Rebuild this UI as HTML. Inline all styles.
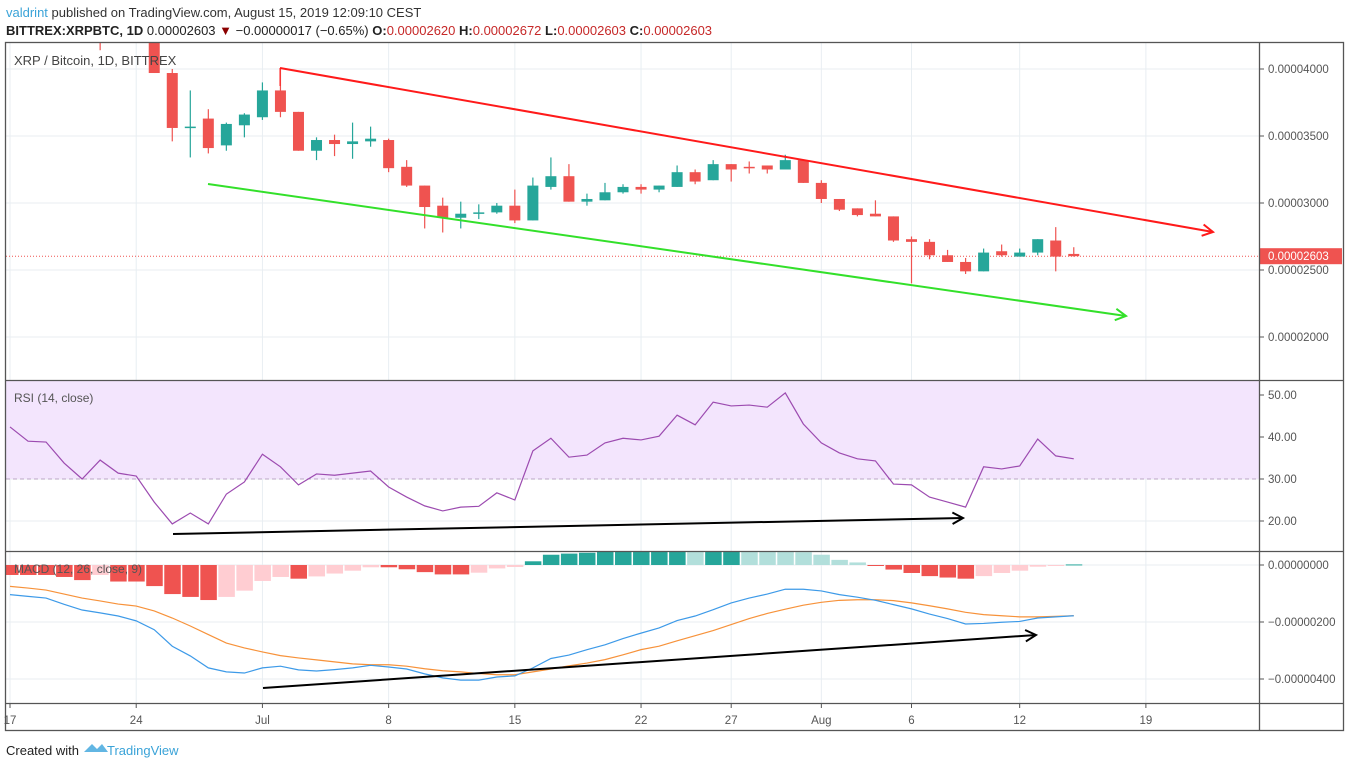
<!DOCTYPE html>
<html><head><meta charset="utf-8"><style>
body{margin:0;background:#fff;}
svg{display:block;font-family:"Liberation Sans",sans-serif;}
</style></head><body>
<svg id="c" width="1351" height="768" viewBox="0 0 1351 768">
<defs>
<clipPath id="cpMain"><rect x="6" y="43" width="1253" height="337"/></clipPath>
<clipPath id="cpRsi"><rect x="6" y="381" width="1253" height="169"/></clipPath>
<clipPath id="cpMacd"><rect x="6" y="552" width="1253" height="151"/></clipPath>
</defs>
<text x="6" y="17" font-size="13" fill="#333"><tspan fill="#3aa3d8">valdrint</tspan> published on TradingView.com, August 15, 2019 12:09:10 CEST</text>
<text x="6" y="35" font-size="13" fill="#222"><tspan font-weight="bold">BITTREX:XRPBTC, 1D</tspan> 0.00002603 <tspan fill="#8b0000">▼</tspan> −0.00000017 (−0.65%) <tspan font-weight="bold">O:</tspan><tspan fill="#c62828">0.00002620</tspan> <tspan font-weight="bold">H:</tspan><tspan fill="#c62828">0.00002672</tspan> <tspan font-weight="bold">L:</tspan><tspan fill="#c62828">0.00002603</tspan> <tspan font-weight="bold">C:</tspan><tspan fill="#c62828">0.00002603</tspan></text>
<rect x="20" y="552" width="1" height="1" fill="none"/>
<g id="grid"></g>
<rect x="6" y="381" width="1253" height="98" fill="#f3e5fd"/>
<g id="main" clip-path="url(#cpMain)"></g>
<g id="rsi" clip-path="url(#cpRsi)"></g>
<g id="macd" clip-path="url(#cpMacd)"></g>
<g id="axes"></g>
<g fill="none" stroke-width="1.3" stroke="#555">
<rect x="5.5" y="42.5" width="1338" height="688"/>
<line x1="5.5" y1="380.5" x2="1344" y2="380.5"/>
<line x1="5.5" y1="551.5" x2="1344" y2="551.5"/>
<line x1="5.5" y1="703.5" x2="1344" y2="703.5"/>
<line x1="1259.5" y1="42" x2="1259.5" y2="731"/>
</g>
<text x="14" y="65" font-size="13" fill="#444">XRP / Bitcoin, 1D, BITTREX</text>
<text x="14" y="402" font-size="12" fill="#555">RSI (14, close)</text>
<text x="14" y="573" font-size="12" fill="#555">MACD (12, 26, close, 9)</text>
<g>
<text x="6" y="755" font-size="13" fill="#222">Created with</text>
<path d="M84 752 L92 744 L97 749 L102 744 L108 752 Z" fill="#62b6e3"/>
<text x="107" y="755" font-size="13" fill="#3aa3d8">TradingView</text>
</g>
</svg>
<script>
// ---- data ----
const startDay = 5;
const opens  = [430,455,445,425,397,357,363,343,358,364,384,368,339,347,344,346,347,327,313,298,289,292,293,298,287,312,320,301,302,308,312,310,312,323,317,329,327,328,325,332,315,303,296,292,290,273,271,261,256,249,264,260,263,272,262];
const highs  = [440,470,460,432,400,384,370,360,367,390,400,368,349,351,360,357,348,332,313,304,301,299,300,310,319,334,329,307,315,314,314,313,328,325,332,329,331,328,336,332,317,303,296,302,290,275,273,265,259,266,269,266,273,282,267];
const lows   = [414,430,425,397,346,334,337,339,349,362,364,339,332,335,333,342,323,312,281,278,281,288,292,285,287,310,301,298,302,307,307,308,312,314,317,316,322,322,325,315,300,294,290,290,271,240,258,256,247,249,260,260,261,249,260];
const closes = [425,445,430,397,356,357,341,359,366,384,368,339,347,344,346,348,326,313,297,289,292,293,298,287,313,320,301,303,308,312,310,313,323,316,329,325,326,325,332,315,303,295,291,290,272,271,261,256,249,263,261,263,273,260,260.3];
const rsiValues = [42.4,39.0,38.8,33.8,30.0,34.5,31.4,30.7,24.5,19.3,21.9,19.3,26.4,29.3,35.9,32.9,28.6,31.2,30.9,31.4,31.9,28.1,25.7,23.6,22.4,23.3,23.5,26.7,25.0,36.7,39.7,35.2,35.7,38.6,39.7,39.3,40.2,45.2,42.9,48.3,47.4,47.6,47.1,50.5,43.1,38.6,36.2,34.8,34.3,28.8,28.6,25.7,24.5,23.3,32.9,32.4,33.1,39.5,35.5,34.8];
const macdHist = [-3.5,-3.5,-3.5,-4.2,-5.3,-3.5,-5.8,-5.8,-7.4,-10.2,-11.2,-12.3,-11.2,-9.0,-5.6,-4.2,-4.8,-4.0,-3.0,-2.0,-0.8,-0.8,-1.5,-2.5,-3.3,-3.3,-2.7,-1.2,-0.7,1.3,3.6,4.0,4.3,4.8,4.8,4.8,4.8,4.85,4.7,4.9,4.95,4.8,4.7,4.6,4.5,3.6,1.8,0.9,-0.1,-1.6,-2.8,-3.9,-4.4,-4.8,-3.9,-2.8,-2.0,-0.6,-0.1,0.2];
const macdLine = [-10.4,-11.0,-11.6,-13.8,-15.8,-16.8,-17.9,-19.6,-22.7,-28.5,-31.9,-36.1,-37.5,-37.9,-36.1,-35.5,-36.8,-37.2,-36.7,-36.1,-35.2,-35.8,-36.5,-38.2,-39.6,-40.4,-40.4,-39.3,-38.9,-36.1,-32.8,-31.6,-29.7,-28.0,-25.8,-23.9,-22.1,-19.5,-17.9,-15.7,-13.3,-11.6,-10.2,-8.5,-8.5,-9.1,-10.4,-11.3,-12.4,-13.9,-15.4,-17.2,-18.8,-20.7,-20.5,-20.1,-19.8,-18.6,-18.2,-17.8];
const signalLine = [-7.5,-8.1,-8.8,-10.2,-11.6,-12.6,-13.7,-14.4,-16.1,-18.6,-21.4,-24.4,-27.4,-29.1,-30.5,-31.8,-32.6,-33.3,-34.0,-34.7,-35.0,-35.0,-35.5,-36.4,-37.1,-37.5,-38.1,-38.5,-38.5,-37.5,-36.5,-35.4,-34.4,-33.2,-31.5,-29.7,-28.5,-26.6,-24.8,-23.0,-20.9,-18.8,-17.0,-15.5,-14.1,-13.1,-12.4,-12.2,-12.2,-12.5,-13.3,-14.3,-15.4,-16.6,-17.4,-17.8,-18.2,-18.2,-18.0,-17.8];
const timeLabels = ["17","24","Jul","8","15","22","27","Aug","6","12","19"];
const timeLabelDays = [0,7,14,21,28,35,40,45,50,56,63];
const priceTicks = [400,350,300,250,200];
const priceTickLabels = ["0.00004000","0.00003500","0.00003000","0.00002500","0.00002000"];
const rsiTicks = [50,40,30,20];
const macdTicks = [0,-20,-40];
const macdTickLabels = ["0.00000000","−0.00000200","−0.00000400"];
const lastPrice = 260.3;

// ---- scales ----
const xOf = d => 10 + d * 18.03;
const yP = v => 69 + (400 - v) * 1.34;
const yR = v => 395 + (50 - v) * 4.2;
const yM = v => 565 - v * 2.85;
const NS = 'http://www.w3.org/2000/svg';
function mk(tag, attrs, parent) {
  const e = document.createElementNS(NS, tag);
  for (const k in attrs) e.setAttribute(k, attrs[k]);
  parent.appendChild(e);
  return e;
}
const G = id => document.getElementById(id);
const GREEN = '#26a69a', RED = '#ef5350';

// grid
const grid = G('grid');
timeLabelDays.forEach(d => {
  const l = mk('line', {x1: xOf(d), x2: xOf(d), y1: 43, y2: 703, stroke: '#e8eef2', 'stroke-width': 1}, grid);
  
  
});
priceTicks.forEach(v => {
  const l = mk('line', {x1: 6, x2: 1259, y1: yP(v), y2: yP(v), stroke: '#e8eef2'}, grid);
  
  
});
rsiTicks.forEach(v => {
  const l = mk('line', {x1: 6, x2: 1259, y1: yR(v), y2: yR(v), stroke: '#e8eef2'}, grid);
  
  
});
macdTicks.forEach(v => {
  const l = mk('line', {x1: 6, x2: 1259, y1: yM(v), y2: yM(v), stroke: '#e8eef2'}, grid);
  
  
});

// candles
const main = G('main');
const pl = mk('line', {x1: 6, x2: 1259, y1: yP(lastPrice), y2: yP(lastPrice), stroke: RED, 'stroke-dasharray': '1 2', 'stroke-width': 1}, main);


opens.forEach((o, i) => {
  const d = startDay + i, x = xOf(d), c = closes[i];
  const col = c >= o ? GREEN : RED;
  const g = mk('g', {}, main);
  
  
  mk('line', {x1: x, x2: x, y1: yP(highs[i]), y2: yP(lows[i]), stroke: col, 'stroke-width': 1.2}, g);
  const top = yP(Math.max(o, c)), bot = yP(Math.min(o, c));
  mk('rect', {x: x - 5.5, y: top, width: 11, height: Math.max(1.5, bot - top), fill: col}, g);
});
// trend lines (user drawings)
function arrowLine(parent, x1, y1, x2, y2, col, w, name) {
  const g = mk('g', {}, parent);
  
  
  mk('line', {x1, y1, x2, y2, stroke: col, 'stroke-width': w}, g);
  const a = Math.atan2(y2 - y1, x2 - x1), L = 12;
  const p = (s) => (x2 - L * Math.cos(a + s)) + ',' + (y2 - L * Math.sin(a + s));
  mk('polyline', {points: p(0.5) + ' ' + x2 + ',' + y2 + ' ' + p(-0.5), fill: 'none', stroke: col, 'stroke-width': w}, g);
}
const rl = mk('line', {x1: 280, y1: 68, x2: 280, y2: 86, stroke: '#ff1a1a', 'stroke-width': 1}, main);


arrowLine(main, 280, 68, 1213, 232, '#ff1a1a', 2, 'resistance-trendline');
arrowLine(main, 208, 184, 1126, 316, '#33e02a', 2, 'support-trendline');

// RSI
const rsi = G('rsi');
const rd = mk('line', {x1: 6, x2: 1259, y1: yR(30), y2: yR(30), stroke: '#b9a6c4', 'stroke-dasharray': '4 3'}, rsi);


const rp = mk('polyline', {points: rsiValues.map((v, i) => xOf(i) + ',' + yR(v)).join(' '), fill: 'none', stroke: '#9c4bb0', 'stroke-width': 1.2}, rsi);


arrowLine(rsi, 173, 534, 963, 518, '#000', 2, 'rsi-divergence-arrow');

// MACD
const macd = G('macd');
macdHist.forEach((v, i) => {
  const prev = i > 0 ? macdHist[i - 1] : v;
  let col;
  if (v >= 0) col = v >= prev ? GREEN : '#b2dfdb';
  else col = v <= prev ? RED : '#ffcdd2';
  const y0 = yM(0), y1 = yM(v);
  const r = mk('rect', {x: xOf(i) - 8, y: Math.min(y0, y1), width: 16.5, height: Math.max(1, Math.abs(y1 - y0)), fill: col}, macd);
  
  
});
const sp = mk('polyline', {points: signalLine.map((v, i) => xOf(i) + ',' + yM(v)).join(' '), fill: 'none', stroke: '#f7923a', 'stroke-width': 1.2}, macd);


const mp = mk('polyline', {points: macdLine.map((v, i) => xOf(i) + ',' + yM(v)).join(' '), fill: 'none', stroke: '#3d9ae8', 'stroke-width': 1.2}, macd);


arrowLine(macd, 263, 688, 1036, 635, '#000', 2, 'macd-divergence-arrow');

// axes labels
const axes = G('axes');
priceTicks.forEach((v, i) => {
  mk('line', {x1: 1259, x2: 1264, y1: yP(v), y2: yP(v), stroke: '#555'}, axes);
  const t = mk('text', {x: 1268, y: yP(v) + 4, 'font-size': 11.5, fill: '#555'}, axes);
  t.textContent = priceTickLabels[i];
  
  
});
const pb = mk('rect', {x: 1260, y: yP(lastPrice) - 8, width: 82, height: 16, fill: RED}, axes);


const pt = mk('text', {x: 1268, y: yP(lastPrice) + 4, 'font-size': 11.5, fill: '#fff'}, axes);
pt.textContent = '0.00002603';


rsiTicks.forEach(v => {
  mk('line', {x1: 1259, x2: 1264, y1: yR(v), y2: yR(v), stroke: '#555'}, axes);
  const t = mk('text', {x: 1268, y: yR(v) + 4, 'font-size': 11.5, fill: '#555'}, axes);
  t.textContent = v.toFixed(2);
  
  
});
macdTicks.forEach((v, i) => {
  mk('line', {x1: 1259, x2: 1264, y1: yM(v), y2: yM(v), stroke: '#555'}, axes);
  const t = mk('text', {x: 1268, y: yM(v) + 4, 'font-size': 11.5, fill: '#555'}, axes);
  t.textContent = macdTickLabels[i];
  
  
});
timeLabels.forEach((s, i) => {
  const x = xOf(timeLabelDays[i]);
  mk('line', {x1: x, x2: x, y1: 703, y2: 708, stroke: '#555'}, axes);
  const t = mk('text', {x: x, y: 724, 'font-size': 11.5, fill: '#555', 'text-anchor': 'middle'}, axes);
  t.textContent = s;
  
  
});
</script>
</body></html>
